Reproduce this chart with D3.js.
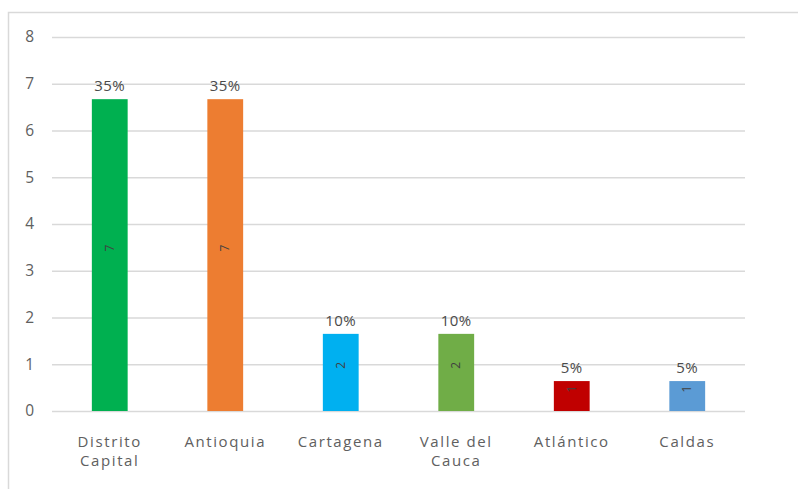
<!DOCTYPE html>
<html>
<head>
<meta charset="utf-8">
<script src="https://cdn.jsdelivr.net/npm/d3@7"></script>
<style>
  body { margin: 0; background: #fff; }
  svg { display: block; }
</style>
</head>
<body>
<svg id="drawing_region"></svg>
<script>
// categories and values
const categories = ["Distrito Capital", "Antioquia", "Cartagena", "Valle del Cauca", "Atlántico", "Caldas"];
const categoryLines = [["Distrito", "Capital"], ["Antioquia"], ["Cartagena"], ["Valle del", "Cauca"], ["Atlántico"], ["Caldas"]];
const counts = [7, 7, 2, 2, 1, 1];
// bar heights as drawn in the picture (slightly below the counts)
const barHeights = [6.67, 6.67, 1.65, 1.65, 0.64, 0.64];
const percents = ["35%", "35%", "10%", "10%", "5%", "5%"];
const barColors = ["#00B050", "#ED7D31", "#00B0F0", "#70AD47", "#C00000", "#5B9BD5"];
const yTicks = [0, 1, 2, 3, 4, 5, 6, 7, 8];

const config = {
    width: 798,
    height: 489,
    margin: {top: 37, right: 53, bottom: 78, left: 52}
};

const svg = d3.select('#drawing_region')
    .attr('width', config.width)
    .attr('height', config.height);

// outer chart frame (top + left edges visible)
svg.append('path')
    .attr('d', `M8.5,${config.height} V12.5 H${config.width}`)
    .attr('fill', 'none')
    .attr('stroke', '#d9d9d9')
    .attr('stroke-width', 1.5);

const inner_width = config.width - config.margin.left - config.margin.right;
const inner_height = 411 - config.margin.top;

const chart = svg.append('g')
    .attr('transform', `translate(${config.margin.left}, ${config.margin.top})`);

const xscale = d3.scaleBand()
    .domain(categories)
    .range([0, inner_width])
    .paddingInner(0.69)
    .paddingOuter(0.345);

const yscale = d3.scaleLinear()
    .domain([0, 8])
    .range([inner_height, 0]);

// gridlines + y labels
const yaxis = d3.axisLeft(yscale)
    .tickValues(yTicks)
    .tickSize(-inner_width)
    .tickPadding(18)
    .tickFormat(d3.format('d'));

const yaxis_group = chart.append('g').call(yaxis);
yaxis_group.select('.domain').remove();
yaxis_group.selectAll('.tick line')
    .attr('stroke', '#d9d9d9')
    .attr('stroke-width', 1.3);
yaxis_group.selectAll('.tick text')
    .attr('fill', '#606060')
    .attr('font-family', '"Open Sans", sans-serif')
    .attr('font-size', 15.5);

const data = categories.map((c, i) => ({
    cat: c, count: counts[i], h: barHeights[i], pct: percents[i], color: barColors[i], lines: categoryLines[i]
}));

// bars
chart.selectAll('rect.bar')
    .data(data)
    .enter()
    .append('rect')
    .attr('class', 'bar')
    .attr('x', d => xscale(d.cat))
    .attr('y', d => yscale(d.h))
    .attr('width', xscale.bandwidth())
    .attr('height', d => yscale(0) - yscale(d.h))
    .attr('fill', d => d.color);

// percent labels above bars
chart.selectAll('text.pct')
    .data(data)
    .enter()
    .append('text')
    .attr('class', 'pct')
    .attr('x', d => xscale(d.cat) + xscale.bandwidth() / 2)
    .attr('y', d => yscale(d.h) - 8)
    .attr('text-anchor', 'middle')
    .attr('fill', '#4a4a4a')
    .attr('font-family', '"Open Sans", sans-serif')
    .attr('font-size', 15)
    .attr('letter-spacing', 0.4)
    .text(d => d.pct);

// count labels inside bars, rotated
chart.selectAll('text.count')
    .data(data)
    .enter()
    .append('text')
    .attr('class', 'count')
    .attr('transform', d => {
        const cx = xscale(d.cat) + xscale.bandwidth() / 2;
        const cy = (yscale(d.h) + yscale(0)) / 2 - 7;
        return `translate(${cx}, ${cy}) rotate(-90)`;
    })
    .attr('text-anchor', 'middle')
    .attr('dy', '0.35em')
    .attr('fill', '#404040')
    .attr('font-family', '"Open Sans", sans-serif')
    .attr('font-size', 12)
    .text(d => d.count);

// category labels
const xlabels = chart.selectAll('text.cat')
    .data(data)
    .enter()
    .append('text')
    .attr('class', 'cat')
    .attr('x', d => xscale(d.cat) + xscale.bandwidth() / 2)
    .attr('y', inner_height + 36)
    .attr('text-anchor', 'middle')
    .attr('fill', '#606060')
    .attr('font-family', '"Open Sans", sans-serif')
    .attr('font-size', 15)
    .attr('letter-spacing', 1.6);

xlabels.selectAll('tspan')
    .data(d => d.lines.map(l => ({l: l, x: xscale(d.cat) + xscale.bandwidth() / 2})))
    .enter()
    .append('tspan')
    .attr('x', t => t.x)
    .attr('dy', (t, i) => i === 0 ? 0 : 19)
    .text(t => t.l);
</script>
</body>
</html>
